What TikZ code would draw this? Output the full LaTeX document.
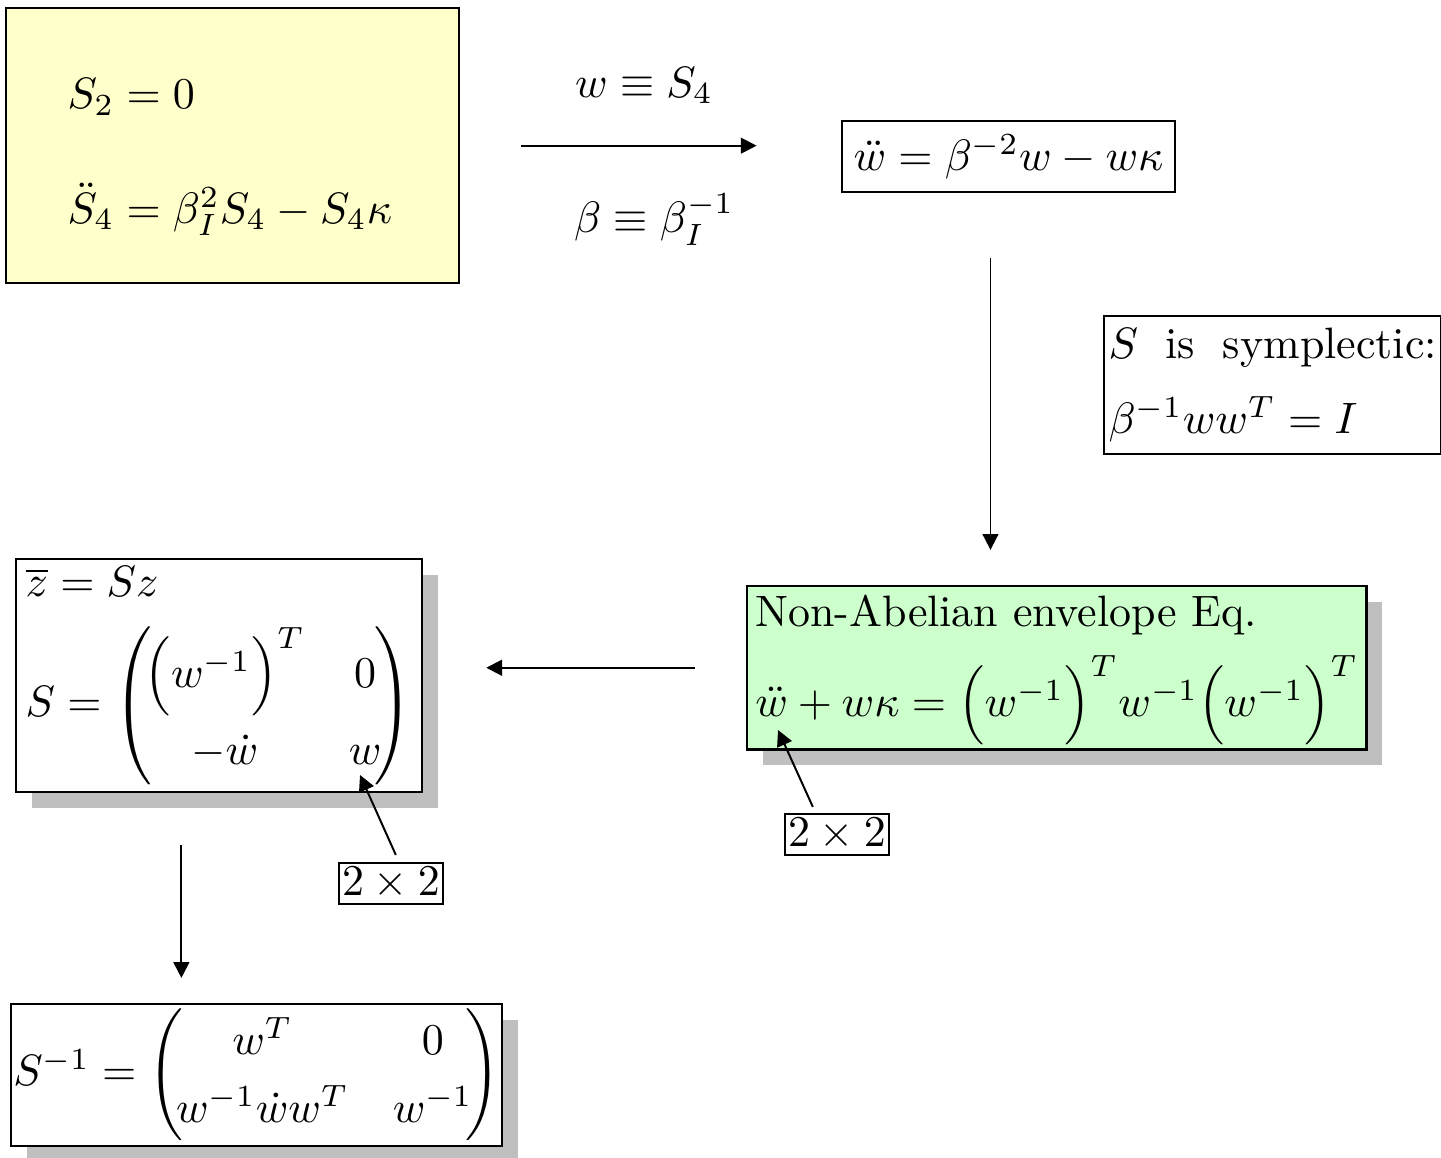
\documentclass[tikz,border=0pt]{standalone}
\usepackage{amsmath,amssymb}
\usepackage{tikz}
\usetikzlibrary{arrows.meta,positioning,shadows}
\usepackage{xcolor}
\definecolor{paleyellow}{HTML}{FFFFCC}
\definecolor{palegreen}{HTML}{CCFFCC}
\renewcommand{\arraystretch}{1.3}

\begin{document}
\begin{tikzpicture}[
x=0.008cm,y=-0.008cm,
box/.style={
  draw,
  line width=0.5pt,
  align=left,
  inner sep=1pt
},
shadowbox/.style={
  box,
  fill=white,
  drop shadow={shadow xshift=3.6pt,shadow yshift=-3.6pt,fill=black!25,opacity=1}
},
dimbox/.style={draw,line width=0.5pt,inner sep=1pt,inner xsep=0.7pt},
arrow/.style={-{Triangle[length=3.6pt,width=3.6pt]},line width=0.45pt}
]
\useasboundingbox (0,0) rectangle (1441,1158);

\node[box,fill=paleyellow,anchor=north west,inner xsep=14pt,text width=75pt,minimum height=62.6pt] (start) at (5,7)
  {\rule{0pt}{12pt}$S_2 = 0$\\[14pt]$\ddot{S}_4 = \beta_I^2 S_4 - S_4\kappa$};
\node[box,inner xsep=2.7pt,inner ysep=3pt] (weq) at (1008.5,156.5) {$\ddot{w} = \beta^{-2}w - w\kappa$};
\node[box,anchor=north west,text width=74.7pt,minimum height=31.4pt] (sympl) at (1103,315)
  {$S$\hfill is\hfill symplectic:\\[5pt]$\beta^{-1}ww^T = I$};
\node[shadowbox,fill=palegreen,anchor=north west,minimum width=140.9pt,minimum height=37.1pt] (envelope) at (746,585)
  {\rule{0pt}{8.3pt}Non-Abelian envelope Eq.\\[3.6pt]$\ddot{w} + w\kappa = \Big(w^{-1}\Big)^{T} w^{-1}\Big(w^{-1}\Big)^{T}$};
\node[shadowbox,anchor=north west,minimum width=92.4pt,minimum height=53pt] (transf) at (15,558)
  {$\overline{z} = Sz$\\[6pt]$S = \left(\!\begin{matrix}\Big(w^{-1}\Big)^{T} & 0\\ -\dot{w} & w\end{matrix}\!\right)$};
\node[shadowbox,anchor=north west,minimum width=110.6pt,minimum height=31.9pt,inner sep=0.5pt] (inverse) at (10,1003)
  {$S^{-1} = \left(\!\begin{matrix} w^T & 0\\ w^{-1}\dot{w}w^T & w^{-1}\end{matrix}\!\right)$};
\node[dimbox] (dimA) at (391,883.5) {$2\times2$};
\node[dimbox] (dimB) at (837,834.5) {$2\times2$};
\coordinate (wA) at (360,775);
\coordinate (wB) at (778,730);

\draw[arrow,shorten <=13.9pt,shorten >=19.1pt] (start.east) --
  node[above=6pt,xshift=-1.4pt] {$w \equiv S_4$}
  node[below=7.4pt,xshift=0.9pt] {$\beta \equiv \beta_I^{-1}$}
  (start.east -| weq.west);
\draw[arrow,shorten <=14.8pt,shorten >=8pt] ([xshift=-4.1pt]weq.south) -- ([xshift=-4.1pt]weq.south |- envelope.north);
\draw[arrow,shorten <=11.6pt,shorten >=14.3pt] (envelope.west) -- (envelope.west -| transf.east);
\draw[arrow,shorten <=11.8pt,shorten >=5.7pt] ([xshift=-8.6pt]transf.south) -- ([xshift=-8.6pt]transf.south |- inverse.north);
\draw[arrow] ([xshift=1.1pt,yshift=1.6pt]dimA.north) -- (wA);
\draw[arrow] ([xshift=-5.5pt,yshift=1.4pt]dimB.north) -- (wB);
\end{tikzpicture}
\end{document}
